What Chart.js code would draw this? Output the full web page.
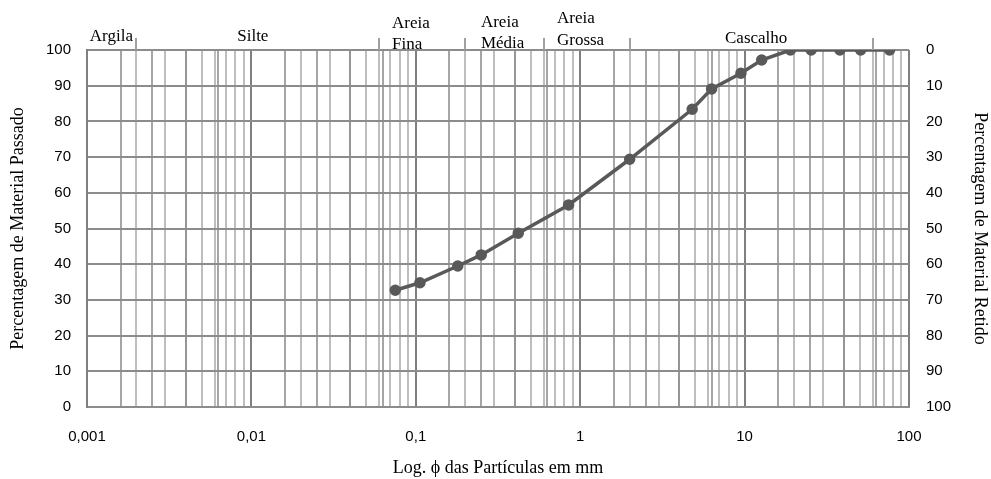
<!DOCTYPE html>
<html><head><meta charset="utf-8">
<script src="https://cdn.jsdelivr.net/npm/chart.js@4/dist/chart.umd.min.js"></script>
<style>html,body{margin:0;padding:0;background:#fff;}#wrap{width:991px;height:479px;}</style>
</head><body><div id="wrap"><canvas id="c" width="991" height="479"></canvas></div>
<script>
// ---- data ----
const diameters = [0.075, 0.106, 0.18, 0.25, 0.42, 0.85, 2.0, 4.8, 6.3, 9.5, 12.7, 19, 25.4, 38, 50.8, 76.2];
const passing   = [32.7, 34.8, 39.5, 42.6, 48.7, 56.6, 69.4, 83.4, 89.1, 93.5, 97.2, 100, 100, 100, 100, 100];
const xTickValues = [0.001, 0.01, 0.1, 1, 10, 100];
const xTickLabels = ['0,001', '0,01', '0,1', '1', '10', '100'];
const gridMultipliers = [1, 1.6, 2, 2.5, 3, 4, 5, 6, 6.3, 7, 8, 9];
const yTickValues = [0, 10, 20, 30, 40, 50, 60, 70, 80, 90, 100];
const zoneNames = [['Argila'], ['Silte'], ['Areia', 'Fina'], ['Areia', 'Média'], ['Areia', 'Grossa'], ['Cascalho']];
const zoneLabelStart = [0.00104, 0.0082, 0.0716, 0.249, 0.722, 7.6];
const zoneBoundaries = [0.002, 0.06, 0.2, 0.6, 2, 60];

// ---- derived ----
const gridValues = [];
for (let d = 0; d < xTickValues.length - 1; d++) {
  gridMultipliers.forEach(m => gridValues.push(+(xTickValues[d] * m).toPrecision(6)));
}
gridValues.push(xTickValues[xTickValues.length - 1]);

function decadeIndex(v) {
  return xTickValues.findIndex(t => Math.abs(Math.log10(t) - Math.log10(v)) < 1e-6);
}
function gridColor(v) {
  if (decadeIndex(v) >= 0) return '#7f7f7f';
  const m = +(v / Math.pow(10, Math.floor(Math.log10(v) + 1e-9))).toPrecision(3);
  if (m === 4) return '#969696';
  if (m === 1.6 || m === 2.5 || m === 6.3) return '#a6a6a6';
  return '#bebebe';
}

const zonePlugin = {
  id: 'zones',
  afterDraw(chart) {
    const ctx = chart.ctx, xs = chart.scales.x, top = chart.chartArea.top;
    ctx.save();
    ctx.strokeStyle = '#a0a0a0';
    ctx.lineWidth = 2;
    zoneBoundaries.forEach(b => {
      const px = Math.round(xs.getPixelForValue(b));
      ctx.beginPath(); ctx.moveTo(px, top - 12); ctx.lineTo(px, top); ctx.stroke();
    });
    const baselines = [[41], [41], [28, 49], [27, 48], [23, 45], [43]];
    ctx.fillStyle = '#000';
    ctx.font = '17px "Liberation Serif"';
    ctx.textAlign = 'left';
    ctx.textBaseline = 'alphabetic';
    zoneNames.forEach((lines, i) => {
      const px = xs.getPixelForValue(zoneLabelStart[i]);
      lines.forEach((t, j) => ctx.fillText(t, px, baselines[i][j]));
    });
    ctx.restore();
  }
};

const tickFont = { family: '"Liberation Sans"', size: 15 };
const titleFont = { family: '"Liberation Serif"', size: 18 };

new Chart(document.getElementById('c'), {
  type: 'line',
  data: {
    datasets: [{
      data: diameters.map((d, i) => ({ x: d, y: passing[i] })),
      borderColor: '#595959',
      backgroundColor: '#595959',
      pointBackgroundColor: '#595959',
      pointBorderColor: '#595959',
      borderWidth: 3.5,
      pointRadius: 4,
      tension: 0,
      yAxisID: 'y'
    }]
  },
  options: {
    responsive: false,
    animation: false,
    layout: { padding: { top: 50, left: 0, right: 0, bottom: 0 } },
    plugins: { legend: { display: false }, tooltip: { enabled: false } },
    scales: {
      x: {
        type: 'logarithmic',
        position: 'bottom',
        min: 0.001, max: 100,
        afterBuildTicks: s => { s.ticks = gridValues.map(v => ({ value: v })); },
        afterFit: s => { s.height = 72; },
        ticks: {
          autoSkip: false, maxRotation: 0, minRotation: 0,
          font: tickFont, color: '#000', padding: 21,
          callback: v => { const i = decadeIndex(v); return i >= 0 ? xTickLabels[i] : ''; }
        },
        grid: { color: c => gridColor(c.tick.value), lineWidth: 2, drawTicks: false },
        border: { color: '#8c8c8c', width: 2 },
        title: { display: true, text: 'Log. ϕ das Partículas em mm', font: titleFont, color: '#000', padding: { top: 0, bottom: 0 } }
      },
      y: {
        position: 'left',
        min: 0, max: 100,
        afterBuildTicks: s => { s.ticks = yTickValues.map(v => ({ value: v })); },
        afterFit: s => { s.width = 87; },
        ticks: { font: tickFont, color: '#000', padding: 16 },
        grid: { color: '#8c8c8c', lineWidth: 2, drawTicks: false },
        border: { color: '#7f7f7f', width: 2 },
        title: { display: true, text: 'Percentagem de Material Passado', font: titleFont, color: '#000', padding: { top: 7, bottom: 0 } }
      },
      y2: {
        position: 'right',
        reverse: true,
        min: 0, max: 100,
        afterBuildTicks: s => { s.ticks = yTickValues.map(v => ({ value: v })); },
        afterFit: s => { s.width = 82; },
        ticks: { font: tickFont, color: '#000', padding: 17 },
        grid: { display: false, drawTicks: false },
        border: { display: false },
        title: { display: true, text: 'Percentagem de Material Retido', font: titleFont, color: '#000', padding: { top: 0, bottom: 0 } }
      }
    }
  },
  plugins: [zonePlugin]
});
</script>
</body></html>
